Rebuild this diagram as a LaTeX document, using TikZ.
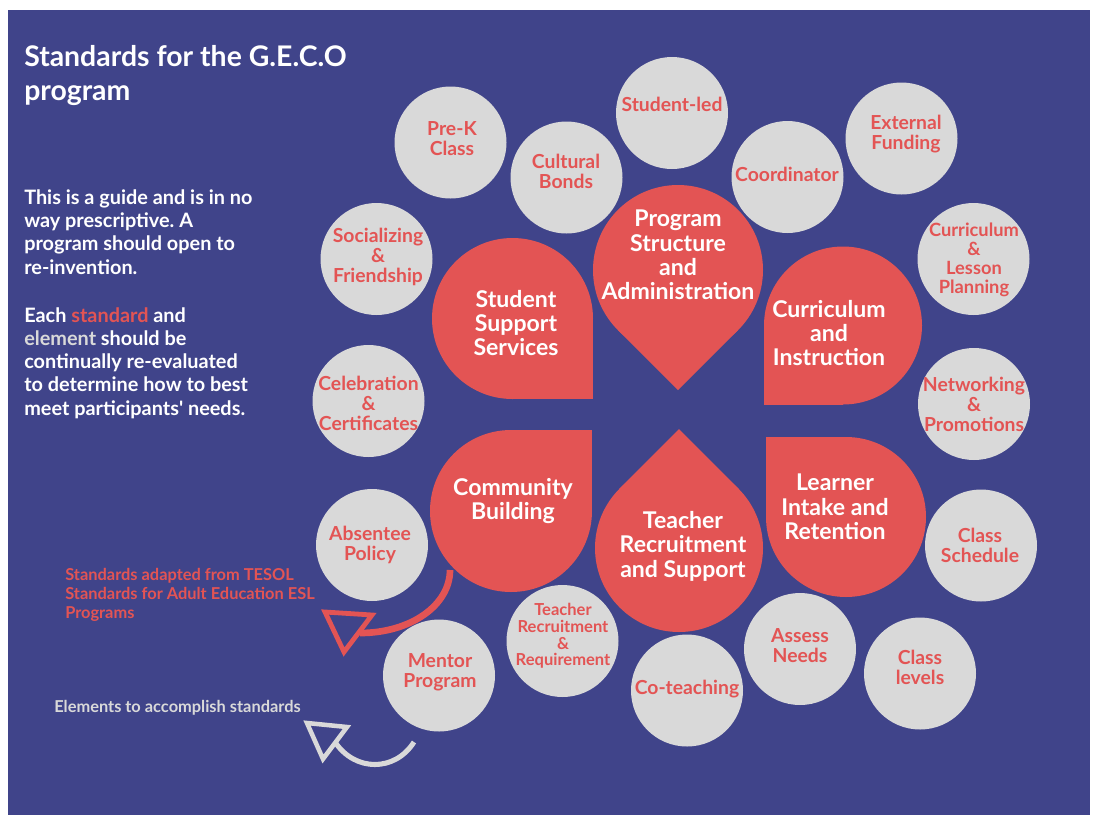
\documentclass[tikz,border=0pt]{standalone}
\usepackage{fontspec}
\setmainfont{Lato}
\definecolor{bgblue}{HTML}{40448A}
\definecolor{stdred}{HTML}{E35454}
\definecolor{elemgray}{HTML}{D9D9D9}
\frenchspacing
\begin{document}
\begin{tikzpicture}[x=0.75pt,y=-0.75pt,
  std/.style={fill=stdred},
  stdtext/.style={text=white,font=\bfseries\fontsize{17.3}{18.3}\selectfont,align=center,inner sep=0pt},
  elem/.style={circle,fill=elemgray,minimum size=84pt,inner sep=0pt},
  elemtext/.style={text=stdred,font=\bfseries\fontsize{14.5}{15}\selectfont,align=center,inner sep=0pt},
  smalltext/.style={elemtext,font=\bfseries\fontsize{13.7}{14.25}\selectfont},
  tinytext/.style={elemtext,font=\bfseries\fontsize{12.4}{12.5}\selectfont},
  lefttext/.style={text=white,font=\bfseries\fontsize{14.9}{17.4}\selectfont,align=left,inner sep=0pt,anchor=base west},
  redarrow/.style={draw=stdred,line width=5pt},
  redhead/.style={draw=stdred,line width=3.6pt,line join=miter},
  grayarrow/.style={draw=elemgray,line width=3.8pt},
  grayhead/.style={draw=elemgray,line width=3.4pt,line join=miter},
]
\useasboundingbox (0,0) rectangle (1093,815);
\fill[white] (0,0) rectangle (1093,815);
\fill[bgblue] (8,10) rectangle (1090,815);

% title and notes (base anchor = baseline of the last line)
\node[lefttext,font=\bfseries\fontsize{21.3}{25}\selectfont] (title) at (24,100) {Standards for the G.E.C.O\\program};
\node[lefttext] (guide) at (24,274) {This is a guide and is in no\\way prescriptive. A\\program should open to\\re-invention.};
\node[lefttext] (each) at (24,415) {Each \textcolor{stdred}{standard} and\\\textcolor{elemgray}{element} should be\\continually re-evaluated\\to determine how to best\\meet participants\textquotesingle{} needs.};
\node[lefttext,text=stdred,font=\bfseries\fontsize{12.3}{14}\selectfont] (tesol) at (65,618) {Standards adapted from TESOL\\Standards for Adult Education ESL\\Programs};
\node[lefttext,text=elemgray,font=\bfseries\fontsize{12.3}{14}\selectfont] (elements) at (54,712) {Elements to accomplish standards};

% standards (teardrops)
\fill[std] (512.5,318.5) circle[radius=80.5];
\fill[std] (512.5,318.5) rectangle (593,399);
\node[stdtext] (sss) at (516,323) {Student\\Support\\Services};

\fill[std] (678,270) circle[radius=85];
\fill[std] (678,270) -- (738.1,330.1) -- (678,390.2) -- (617.9,330.1) -- cycle;
\node[stdtext] (psa) at (678,255) {Program\\Structure\\and\\Administration};

\fill[std] (843,325.5) circle[radius=79];
\fill[std] (843,325.5) rectangle (764,404.5);
\node[stdtext] (ci) at (829,333) {Curriculum\\and\\Instruction};

\fill[std] (511,511) circle[radius=81];
\fill[std] (511,511) rectangle (592,430);
\node[stdtext] (cb) at (513,501) {Community\\Building};

\fill[std] (679,548) circle[radius=84];
\fill[std] (679,548) -- (738.4,488.6) -- (679,429.2) -- (619.6,488.6) -- cycle;
\node[stdtext] (trs) at (683,546) {Teacher\\Recruitment\\and Support};

\fill[std] (846,517) circle[radius=80];
\fill[std] (846,517) rectangle (766,437);
\node[stdtext] (lir) at (835,507) {Learner\\Intake and\\Retention};

% elements (circles)
\node[elem] (prek) at (450.5,142.5) {};
\node[elemtext] (prek-t) at (452,139) {Pre-K\\Class};
\node[elem] (cultural) at (566.5,177.5) {};
\node[elemtext] (cultural-t) at (566,171) {Cultural\\Bonds};
\node[elem] (studentled) at (672,113) {};
\node[elemtext] (studentled-t) at (672,104) {Student-led};
\node[elem] (coord) at (787.5,177) {};
\node[elemtext] (coord-t) at (787,174) {Coordinator};
\node[elem] (extfund) at (901.5,138.5) {};
\node[elemtext] (extfund-t) at (906,134.5) {External\\Funding};
\node[elem] (currles) at (973.5,259) {};
\node[smalltext] (currles-t) at (974,260) {Curriculum\\\&\\Lesson\\Planning};
\node[elem] (network) at (974,404) {};
\node[elemtext] (network-t) at (974,404) {Networking\\\&\\Promotions};
\node[elem] (schedule) at (981,545.5) {};
\node[elemtext] (schedule-t) at (980,545.5) {Class\\Schedule};
\node[elem] (levels) at (920,673.5) {};
\node[elemtext] (levels-t) at (920,667) {Class\\levels};
\node[elem] (assess) at (800,649) {};
\node[elemtext] (assess-t) at (800,646) {Assess\\Needs};
\node[elem] (coteach) at (687,690.5) {};
\node[elemtext] (coteach-t) at (687,689) {Co-teaching};
\node[elem] (teachrec) at (562.5,641) {};
\node[tinytext] (teachrec-t) at (563,636) {Teacher\\Recruitment\\\&\\Requirement};
\node[elem] (mentor) at (439,675.5) {};
\node[elemtext] (mentor-t) at (440,672.5) {Mentor\\Program};
\node[elem] (absentee) at (372,545) {};
\node[elemtext] (absentee-t) at (370,545) {Absentee\\Policy};
\node[elem] (celebr) at (368.5,401) {};
\node[elemtext] (celebr-t) at (368.5,403) {Celebration\\\&\\Certificates};
\node[elem] (social) at (376.5,259) {};
\node[elemtext] (social-t) at (378,257) {Socializing\\\&\\Friendship};

% legend arrows
\coordinate (ra1) at (450,570);
\coordinate (ra2) at (360,633);
\draw[redarrow] (ra1) .. controls (450,605) and (411,633) .. (ra2);
\draw[redhead] (325,612) -- (372,615) -- (344,652) -- cycle;

\coordinate (wa1) at (414,742);
\coordinate (wa2) at (335,742);
\draw[grayarrow] (wa1) .. controls (395,772) and (355,772) .. (wa2);
\draw[grayhead] (307,723) -- (347,727) -- (323,759) -- cycle;
\end{tikzpicture}
\end{document}
